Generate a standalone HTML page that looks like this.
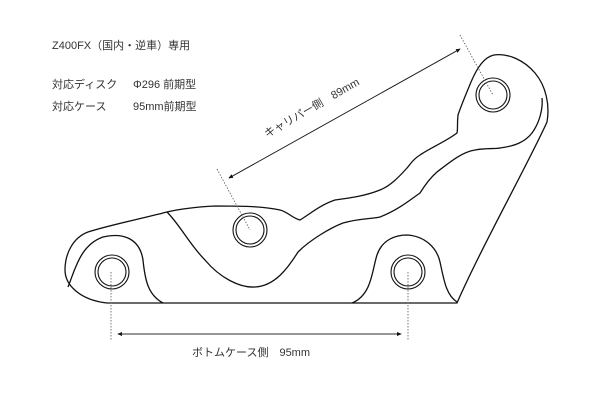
<!DOCTYPE html>
<html><head><meta charset="utf-8"><style>
html,body{margin:0;padding:0;background:#fff;}
body{width:600px;height:400px;position:relative;overflow:hidden;font-family:"Liberation Sans","Noto Sans CJK JP",sans-serif;color:#333;}
.t{position:absolute;font-size:11px;white-space:nowrap;line-height:1;}
</style></head><body>
<div class="t" style="left:52px;top:41px">Z400FX（国内・逆車）専用</div>
<div class="t" style="left:52px;top:80px">対応ディスク</div>
<div class="t" style="left:133px;top:80px">Φ296 前期型</div>
<div class="t" style="left:52px;top:102px">対応ケース</div>
<div class="t" style="left:133px;top:102px">95mm前期型</div>
<div class="t" style="left:192px;top:348px">ボトムケース側　95mm</div>
<svg width="600" height="400" style="position:absolute;left:0;top:0" fill="none" stroke="#111" stroke-width="1.3">
<defs><marker id="a" markerWidth="6" markerHeight="6" refX="5" refY="3" orient="auto"><path d="M0,0.5 L6,3 L0,5.5z" fill="#111" stroke="none"/></marker></defs>
<path d="M107,303 L457,303 C480,250 530,160 547,122 C550,105 546,86 535,73 C524,60 508,53 494,55 C484,57 477,68 471,82 C466,94 461,106 458,115 C457,124 458,128 457,133 C445,142 430,148 420,155 C412,160 410,165 407,168 C398,178 390,186 380,190 C365,196 350,198 335,200 C320,205 310,214 300,220 C292,218 288,212 280,210 C260,206 240,206 215,206 C195,207 180,209 167,212 C140,219 110,225 88,232 C72,238 65,255 65,270 C65,285 80,300 107,303Z"/>
<path d="M167,212 C180,225 190,245 205,260 C220,278 240,288 255,287 C275,286 288,268 298,252 C310,240 330,228 343,223 C360,218 372,219 380,217 C398,210 410,200 420,193 C425,185 430,178 437,172 C450,162 462,152 475,150 C485,148 495,149 500,148 C515,146 525,142 532,133 C540,122 543,108 542,98"/>
<path d="M68,287 C75,270 80,245 103,237 C125,232 140,240 143,260 C145,280 148,295 163,303"/>
<path d="M352,303 C372,295 372,270 377,255 C382,240 395,235 407,235 C425,236 437,248 440,262 C444,280 446,295 457,302"/>
<g stroke-width="1.1">
<circle cx="112" cy="272" r="17"/><circle cx="112" cy="272" r="14"/>
<circle cx="408" cy="272" r="17"/><circle cx="408" cy="272" r="14"/>
<circle cx="250" cy="230" r="17"/><circle cx="250" cy="230" r="14"/>
<circle cx="493" cy="95" r="17"/><circle cx="493" cy="95" r="14"/>
</g>
<g stroke="#555" stroke-width="0.8" stroke-dasharray="1.5,1.5">
<line x1="111" y1="272" x2="111" y2="340"/><line x1="408" y1="272" x2="408" y2="340"/>
<line x1="217" y1="169" x2="250" y2="230"/><line x1="460" y1="35" x2="493" y2="95"/>
</g>
<g stroke="#222" stroke-width="0.8">
<line x1="401" y1="334" x2="118" y2="334" marker-end="url(#a)"/>
<line x1="118" y1="334" x2="401" y2="334" marker-end="url(#a)"/>
<line x1="229" y1="178" x2="460" y2="49" marker-end="url(#a)"/>
<line x1="460" y1="49" x2="229" y2="178" marker-end="url(#a)"/>
</g>
</svg>
<div class="t" style="left:263px;top:131px;transform:rotate(-30deg);transform-origin:left top;">キャリパー側　89mm</div>
</body></html>
